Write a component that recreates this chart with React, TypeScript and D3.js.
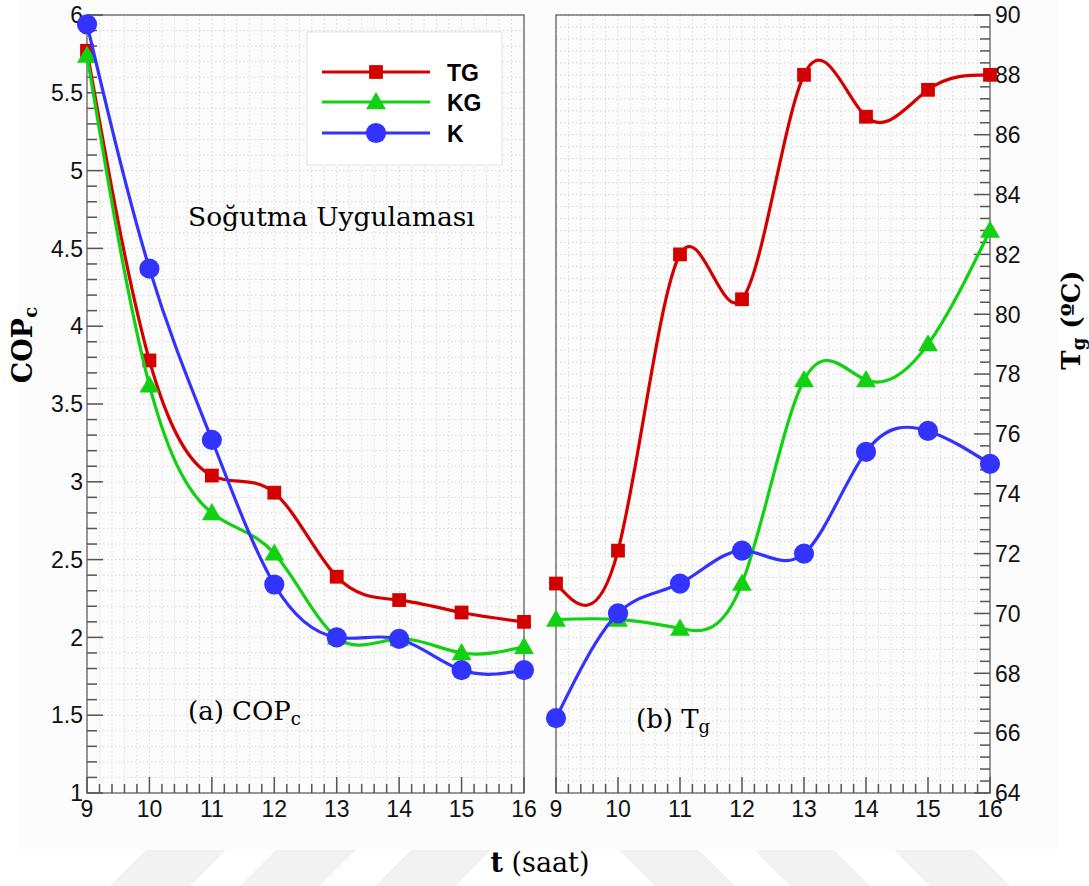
import React from 'react'
import * as d3 from 'd3'

// hours of the day (x axis of both panels)
const hours = [9, 10, 11, 12, 13, 14, 15, 16]

// (a) COP_c
const copTG = [5.77, 3.78, 3.04, 2.93, 2.39, 2.24, 2.16, 2.10]
const copKG = [5.74, 3.62, 2.80, 2.54, 2.00, 1.99, 1.90, 1.94]
const copK = [5.94, 4.37, 3.27, 2.34, 2.00, 1.99, 1.79, 1.79]

// (b) T_g in degrees C
const tgTG = [71.0, 72.1, 82.0, 80.5, 88.0, 86.6, 87.5, 88.0]
const tgKG = [69.8, 69.8, 69.5, 71.0, 77.8, 77.8, 79.0, 82.8]
const tgK = [66.5, 70.0, 71.0, 72.1, 72.0, 75.4, 76.1, 75.0]

const seriesNames = ['TG', 'KG', 'K']
const copTickLabels = ['1', '1.5', '2', '2.5', '3', '3.5', '4', '4.5', '5', '5.5', '6']
const tgTickLabels = ['64', '66', '68', '70', '72', '74', '76', '78', '80', '82', '84', '86', '88', '90']

const colors = ['#d40000', '#12d012', '#3333ff']
const symbols = [d3.symbolSquare, d3.symbolTriangle, d3.symbolCircle]
const symbolSizes = [190, 170, 320]

const W = 1089
const H = 886
const top = 15
const bottom = 793

const sans = '"Liberation Sans", Arial, sans-serif'
const serif = '"DejaVu Serif", serif'

const Panel = ({ x0, x1, yScale, series, side, minorY, majorY, labels }) => {
  const xScale = d3.scaleLinear().domain([9, 16]).range([x0, x1])
  const line = d3
    .line()
    .curve(d3.curveNatural)
    .x((d) => xScale(d[0]))
    .y((d) => yScale(d[1]))

  const [lo, hi] = yScale.domain()
  const nMinor = Math.round((hi - lo) / minorY)
  const yMinor = d3.range(0, nMinor + 1).map((i) => lo + i * minorY)
  const xMinor = d3.range(0, 36).map((i) => 9 + i * 0.2)
  const axisX = side === 'left' ? x0 : x1
  const dir = side === 'left' ? 1 : -1

  return (
    <g>
      {/* dotted grid */}
      <g stroke="#dadada" strokeWidth={1} strokeDasharray="1.5,2.5">
        {yMinor.map((v, i) => (
          <line key={'gy' + i} x1={x0} x2={x1} y1={yScale(v)} y2={yScale(v)} />
        ))}
        {xMinor.map((v, i) => (
          <line key={'gx' + i} x1={xScale(v)} x2={xScale(v)} y1={top} y2={bottom} />
        ))}
      </g>

      {/* frame */}
      <rect x={x0} y={top} width={x1 - x0} height={bottom - top} fill="none" stroke="#555" strokeWidth={1.2} />

      {/* ticks */}
      <g stroke="#555" strokeWidth={1.5}>
        {yMinor.map((v, i) => {
          const major = Math.abs((v - lo) / majorY - Math.round((v - lo) / majorY)) < 1e-6
          return (
            <line key={'ty' + i} x1={axisX} x2={axisX + dir * (major ? 16 : 10)} y1={yScale(v)} y2={yScale(v)} />
          )
        })}
        {xMinor.map((v, i) => {
          const major = Math.abs(v - Math.round(v)) < 1e-6
          return (
            <line key={'tx' + i} x1={xScale(v)} x2={xScale(v)} y1={bottom} y2={bottom - (major ? 16 : 9)} />
          )
        })}
      </g>

      {/* tick labels */}
      <g fontFamily={sans} fontSize={23} fill="#111">
        {labels.map((t) => (
          <text
            key={'ly' + t}
            x={side === 'left' ? x0 - 4 : x1 + 5}
            y={yScale(+t)}
            dy="0.36em"
            textAnchor={side === 'left' ? 'end' : 'start'}
          >
            {t}
          </text>
        ))}
        {hours.map((h) => (
          <text key={'lx' + h} x={xScale(h)} y={bottom + 24} textAnchor="middle">
            {h}
          </text>
        ))}
      </g>

      {/* series */}
      {series.map((vals, s) => {
        const pts = hours.map((h, i) => [h, vals[i]])
        const sym = d3.symbol(symbols[s], symbolSizes[s])
        return (
          <g key={'s' + s}>
            <path d={line(pts)} fill="none" stroke={colors[s]} strokeWidth={3.2} />
            {pts.map((p, i) => (
              <path
                key={i}
                d={sym()}
                fill={colors[s]}
                transform={`translate(${xScale(p[0])},${yScale(p[1]) + (s === 1 ? 1.5 : 0)})`}
              />
            ))}
          </g>
        )
      })}
    </g>
  )
}

const Legend = () => {
  const rows = [72, 102, 133]
  return (
    <g>
      <rect x={307} y={32} width={195} height={133} fill="#fff" stroke="#e2e2e2" strokeWidth={1} />
      {seriesNames.map((n, i) => {
        const sym = d3.symbol(symbols[i], symbolSizes[i])
        return (
          <g key={n}>
            <line x1={322} x2={430} y1={rows[i]} y2={rows[i]} stroke={colors[i]} strokeWidth={3.2} />
            <path d={sym()} fill={colors[i]} transform={`translate(376,${rows[i] + (i === 1 ? 1.5 : 0)})`} />
            <text x={447} y={rows[i] + 9} fontFamily={sans} fontWeight="bold" fontSize={23} fill="#000">
              {n}
            </text>
          </g>
        )
      })}
    </g>
  )
}

const App = () => {
  const yCop = d3.scaleLinear().domain([1, 6]).range([bottom, top])
  const yTg = d3.scaleLinear().domain([64, 90]).range([bottom, top])

  const stripes = [
    [110, 190], [240, 320], [375, 455], [655, 735], [790, 870], [930, 1010],
  ]

  return (
    <svg width={W} height={H} style={{ position: 'absolute', left: 0, top: 0, background: '#fff' }}>
      <rect x={18} y={0} width={1040} height={850} fill="#fcfcfc" />
      {/* faint watermark bands */}
      <g fill="#f2f2f2">
        {stripes.map(([a, b], i) =>
          i < 3 ? (
            <polygon key={i} points={`${a},886 ${b},886 ${b + 36},850 ${a + 36},850`} />
          ) : (
            <polygon key={i} points={`${a},886 ${b},886 ${b - 36},850 ${a - 36},850`} />
          )
        )}
      </g>

      <Panel
        x0={87}
        x1={524}
        yScale={yCop}
        series={[copTG, copKG, copK]}
        side="left"
        minorY={0.1}
        majorY={0.5}
        labels={copTickLabels}
      />
      <Panel
        x0={556}
        x1={990}
        yScale={yTg}
        series={[tgTG, tgKG, tgK]}
        side="right"
        minorY={0.4}
        majorY={2}
        labels={tgTickLabels}
      />

      <Legend />

      <text x={188} y={226} fontFamily={serif} fontSize={26.5} fill="#000">
        Soğutma Uygulaması
      </text>
      <text x={188} y={720} fontFamily={serif} fontSize={26} fill="#000">
        (a) COP<tspan fontSize={18} dy={5}>c</tspan>
      </text>
      <text x={636} y={728} fontFamily={serif} fontSize={26} fill="#000">
        (b) T<tspan fontSize={18} dy={5}>g</tspan>
      </text>

      {/* axis titles */}
      <text
        transform="translate(32,345) rotate(-90)"
        textAnchor="middle"
        fontFamily={serif}
        fontWeight="bold"
        fontSize={27}
        fill="#000"
      >
        COP<tspan fontSize={18} dy={5}>c</tspan>
      </text>
      <text
        transform="translate(1080,320) rotate(-90)"
        textAnchor="middle"
        fontFamily={serif}
        fontWeight="bold"
        fontSize={26}
        fill="#000"
      >
        T<tspan fontSize={18} dy={5}>g</tspan>
        <tspan dy={-5}> (ºC)</tspan>
      </text>
      <text x={540} y={872} textAnchor="middle" fontFamily={serif} fontSize={27} fill="#000">
        <tspan fontWeight="bold">t</tspan> (saat)
      </text>
    </svg>
  )
}

export default App
